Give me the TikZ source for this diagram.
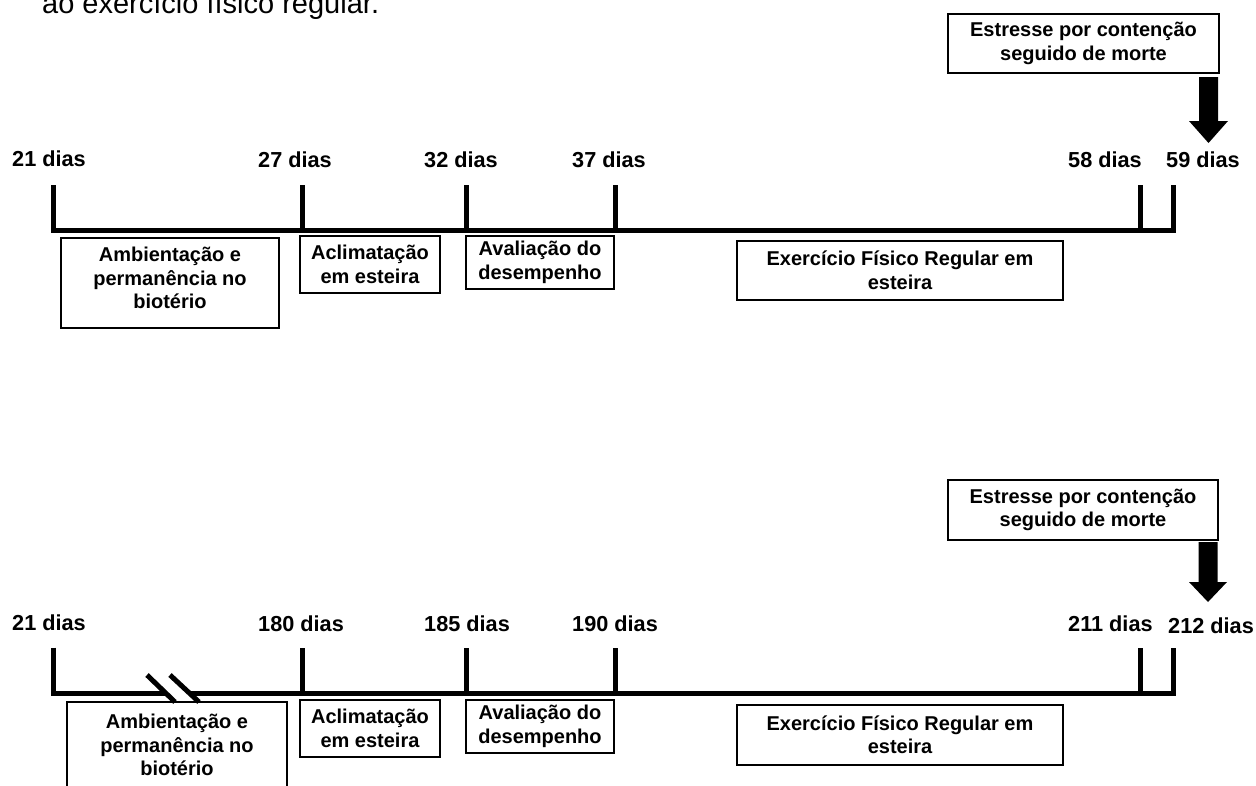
\documentclass[tikz,border=0pt]{standalone}
\usepackage{fontspec}
\setmainfont{Liberation Sans}
\usetikzlibrary{calc}
\begin{document}
\begin{tikzpicture}[x=1pt,y=-1pt,
  lbl/.style={font=\bfseries\fontsize{21.7}{25}\selectfont, anchor=base west, inner sep=0pt},
  boxt/.style={draw, line width=1.5pt, font=\bfseries\fontsize{20}{23.5}\selectfont, align=center, inner sep=0pt},
  boxtxt/.style={font=\bfseries\fontsize{20}{23.5}\selectfont, align=center, inner sep=0pt},
  tl/.style={line width=5pt, line join=miter, line cap=butt},
  brk/.style={line width=5pt, line cap=butt}]
\useasboundingbox (0,0) rectangle (1256,785);
\fill[white] (0,0) rectangle (1256,785);

% clipped caption at the top
\node[anchor=base west, inner sep=0pt, font=\fontsize{29}{34}\selectfont] (cap) at (42,13) {ao exercício físico regular.};

% ===== top timeline =====
\coordinate (a0) at (53.5,230.5);
\coordinate (a1) at (302,230.5);
\coordinate (a2) at (466.5,230.5);
\coordinate (a3) at (615.5,230.5);
\coordinate (a4) at (1140,230.5);
\coordinate (a5) at (1173.5,230.5);
\draw[tl] ($(a0)+(0,-45.5)$) -- (a0) -- (a5) -- ($(a5)+(0,-45.5)$);
\foreach \c in {a1,a2,a3,a4} \draw[tl] (\c) -- ($(\c)+(0,-45.5)$);

\node[lbl] (la0) at (12,166) {21 dias};
\node[lbl] (la1) at (258,167) {27 dias};
\node[lbl] (la2) at (424,167) {32 dias};
\node[lbl] (la3) at (572,167) {37 dias};
\node[lbl] (la4) at (1068,167) {58 dias};
\node[lbl] (la5) at (1166,167) {59 dias};

\draw[line width=1.5pt] (61,238) rectangle (279,328);
\node[boxtxt] (ambA) at (170,278) {Ambientação e\\permanência no\\biotério};
\node[boxt, minimum width=140pt, minimum height=57pt] (aclA) at (370,264.5) {Aclimatação\\em esteira};
\node[boxt, minimum width=148pt, minimum height=53pt] (avaA) at (540,262.5) {Avaliação do\\desempenho};
\node[boxt, minimum width=326pt, minimum height=59pt] (exeA) at (900,270.5) {Exercício Físico Regular em\\esteira};
\node[boxt, minimum width=271pt, minimum height=59pt] (estA) at (1083.5,43.5) {Estresse por contenção\\seguido de morte};

\coordinate (arA) at (1208.5,143);
\fill (arA) -- ++(19.5,-22) -- ++(-10,0) -- ++(0,-44) -- ++(-19,0) -- ++(0,44) -- ++(-10,0) -- cycle;

% ===== bottom timeline =====
\coordinate (b0) at (53.5,693);
\coordinate (b1) at (302,693);
\coordinate (b2) at (466.5,693);
\coordinate (b3) at (615.5,693);
\coordinate (b4) at (1140,693);
\coordinate (b5) at (1173.5,693);
\draw[tl] ($(b0)+(0,-45.5)$) -- (b0) -- (b5) -- ($(b5)+(0,-45.5)$);
\foreach \c in {b1,b2,b3,b4} \draw[tl] (\c) -- ($(\c)+(0,-45.5)$);

% break marks
\fill[white] (149,677) -- (172,677) -- (198,700) -- (175,700) -- cycle;
\draw[brk] (147,675) -- (175,702);
\draw[brk] (170,675) -- (199,702);

\node[lbl] (lb0) at (12,630) {21 dias};
\node[lbl] (lb1) at (258,631) {180 dias};
\node[lbl] (lb2) at (424,631) {185 dias};
\node[lbl] (lb3) at (572,631) {190 dias};
\node[lbl] (lb4) at (1068,631) {211 dias};
\node[lbl] (lb5) at (1168,633) {212 dias};

\draw[line width=1.5pt] (67,790) -- (67,702) -- (287,702) -- (287,790);
\node[boxtxt] (ambB) at (177,745) {Ambientação e\\permanência no\\biotério};
\node[boxt, minimum width=140pt, minimum height=57pt] (aclB) at (370,728.5) {Aclimatação\\em esteira};
\node[boxt, minimum width=148pt, minimum height=53pt] (avaB) at (540,726.5) {Avaliação do\\desempenho};
\node[boxt, minimum width=326pt, minimum height=60pt] (exeB) at (900,735) {Exercício Físico Regular em\\esteira};
\node[boxt, minimum width=270pt, minimum height=60pt] (estB) at (1083,510) {Estresse por contenção\\seguido de morte};

\coordinate (arB) at (1208,602);
\fill (arB) -- ++(19,-20) -- ++(-9.5,0) -- ++(0,-40) -- ++(-19,0) -- ++(0,40) -- ++(-9.5,0) -- cycle;
\end{tikzpicture}
\end{document}
